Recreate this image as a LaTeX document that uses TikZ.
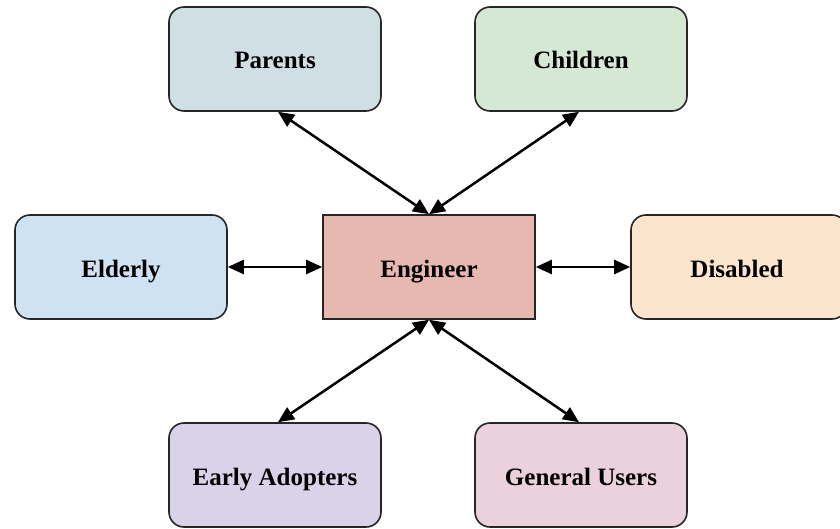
\documentclass[tikz,border=0pt]{standalone}
\usepackage{fontspec}
\setmainfont{Liberation Serif}
\usetikzlibrary{arrows.meta}
\definecolor{cParents}{HTML}{D0DFE3}
\definecolor{cChildren}{HTML}{D5E8D4}
\definecolor{cElderly}{HTML}{CFE2F3}
\definecolor{cEngineer}{HTML}{E6B8AF}
\definecolor{cDisabled}{HTML}{FCE5CD}
\definecolor{cEarly}{HTML}{D9D2E9}
\definecolor{cGeneral}{HTML}{EAD1DC}
\tikzset{
  group/.style={draw=black!85, line width=1.6pt, rounded corners=15pt,
    minimum width=212pt, minimum height=104pt, inner sep=0pt,
    text height=20pt, text depth=0pt,
    font=\fontsize{25}{30}\selectfont\bfseries},
  centre/.style={group, rounded corners=0pt},
  link/.style={line width=2.5pt, black,
    {Triangle[length=16pt,width=14pt]}-{Triangle[length=16pt,width=14pt]}}
}
\begin{document}
\begin{tikzpicture}[x=1pt,y=-1pt]
\clip (0,0) rectangle (840,529);
\useasboundingbox (0,0) rectangle (840,529);
\node[centre, fill=cEngineer] (E) at (429,267) {Engineer};
\node[group, fill=cParents] (P) at (275,59) {Parents};
\node[group, fill=cChildren] (C) at (581,59) {Children};
\node[group, fill=cElderly] (L) at (121,267) {Elderly};
\node[group, fill=cDisabled, minimum width=216pt] (D) at (739,267) {};
\node[font=\fontsize{25}{30}\selectfont\bfseries, text height=20pt, text depth=0pt,
  inner sep=0pt] (Dt) at (737,267) {Disabled};
\node[group, fill=cEarly] (A) at (275,475) {Early Adopters};
\node[group, fill=cGeneral] (G) at (581,475) {General Users};
\draw[link] ([xshift=3pt]P.south) -- (E.north);
\draw[link] ([xshift=-2pt]C.south) -- (E.north);
\draw[link] (L.east) -- (E.west);
\draw[link] (D.west) -- (E.east);
\draw[link] ([xshift=3pt]A.north) -- (E.south);
\draw[link] ([xshift=-2pt]G.north) -- (E.south);
\end{tikzpicture}
\end{document}
